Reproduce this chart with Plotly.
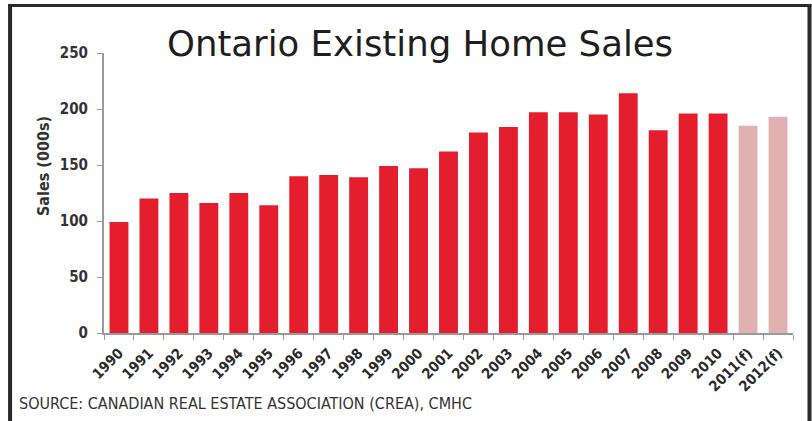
import plotly.graph_objects as go

# Ontario existing home sales, thousands of units (2011-2012 are forecasts)
years = ["1990", "1991", "1992", "1993", "1994", "1995", "1996", "1997", "1998",
         "1999", "2000", "2001", "2002", "2003", "2004", "2005", "2006", "2007",
         "2008", "2009", "2010", "2011(f)", "2012(f)"]
sales = [99, 120, 125, 116, 125, 114, 140, 141, 139, 149, 147, 162, 179, 184,
         197, 197, 195, 214, 181, 196, 196, 185, 193]
is_forecast = [y.endswith("(f)") for y in years]

y_ticks = [0, 50, 100, 150, 200, 250]

W, H = 812, 421
L, R, T, B = 104, 18.5, 53, 88
pw, ph = W - L - R, H - T - B

RED = "#E41E2D"
PINK = "#DFB1B1"
bar_colors = [PINK if f else RED for f in is_forecast]
COND = "DejaVu Sans Condensed, DejaVu Sans, sans-serif"


def px_x(x):
    return (x - L) / pw


def px_y(y):
    return (H - B - y) / ph


fig = go.Figure(go.Bar(
    x=years, y=sales,
    marker=dict(color=bar_colors, line=dict(width=0)),
    width=0.63,
))

frame = dict(color="#2a2a2a", width=4)
shapes = [
    dict(type="line", xref="paper", yref="paper",
         x0=px_x(10), x1=px_x(10), y0=px_y(4), y1=px_y(H + 5), line=frame),
    dict(type="line", xref="paper", yref="paper",
         x0=px_x(810), x1=px_x(810), y0=px_y(4), y1=px_y(H + 5), line=frame),
    dict(type="line", xref="paper", yref="paper",
         x0=px_x(8), x1=px_x(812), y0=px_y(5.5), y1=px_y(5.5),
         line=dict(color="#2a2a2a", width=3)),
]

annotations = [
    dict(text="Ontario Existing Home Sales", xref="paper", yref="paper",
         x=px_x(420), y=px_y(44), xanchor="center", yanchor="middle",
         showarrow=False,
         font=dict(family="DejaVu Sans", size=35.5, color="#1e1e1e")),
    dict(text="Sales (000s)", xref="paper", yref="paper",
         x=px_x(43), y=px_y(166), xanchor="center", yanchor="middle",
         textangle=-90, showarrow=False,
         font=dict(family=COND, size=16, color="#333333", weight="bold")),
    dict(text="SOURCE: CANADIAN REAL ESTATE ASSOCIATION (CREA), CMHC",
         xref="paper", yref="paper", x=px_x(17), y=px_y(403),
         xanchor="left", yanchor="middle", showarrow=False,
         font=dict(family=COND, size=16, color="#333333")),
]

fig.update_layout(
    width=W, height=H,
    margin=dict(l=L, r=R, t=T, b=B),
    paper_bgcolor="white", plot_bgcolor="white",
    showlegend=False,
    shapes=shapes,
    annotations=annotations,
    xaxis=dict(
        type="category", range=[-0.5, len(years) - 0.5],
        showline=True, linecolor="#9a9a9a", linewidth=2,
        ticks="outside", tickson="boundaries", ticklen=5, tickcolor="#9a9a9a",
        tickangle=-45, showgrid=False, ticklabelstandoff=4,
        tickfont=dict(family=COND, size=14.5, color="#2a2a2a", weight="bold"),
    ),
    yaxis=dict(
        range=[0, 250], tickvals=y_ticks,
        showline=True, linecolor="#9a9a9a", linewidth=2,
        ticks="outside", ticklen=5, tickcolor="#9a9a9a",
        showgrid=False, zeroline=False, ticklabelstandoff=6,
        tickfont=dict(family=COND, size=15, color="#333333", weight="bold"),
    ),
)

fig.write_html("out.html")
